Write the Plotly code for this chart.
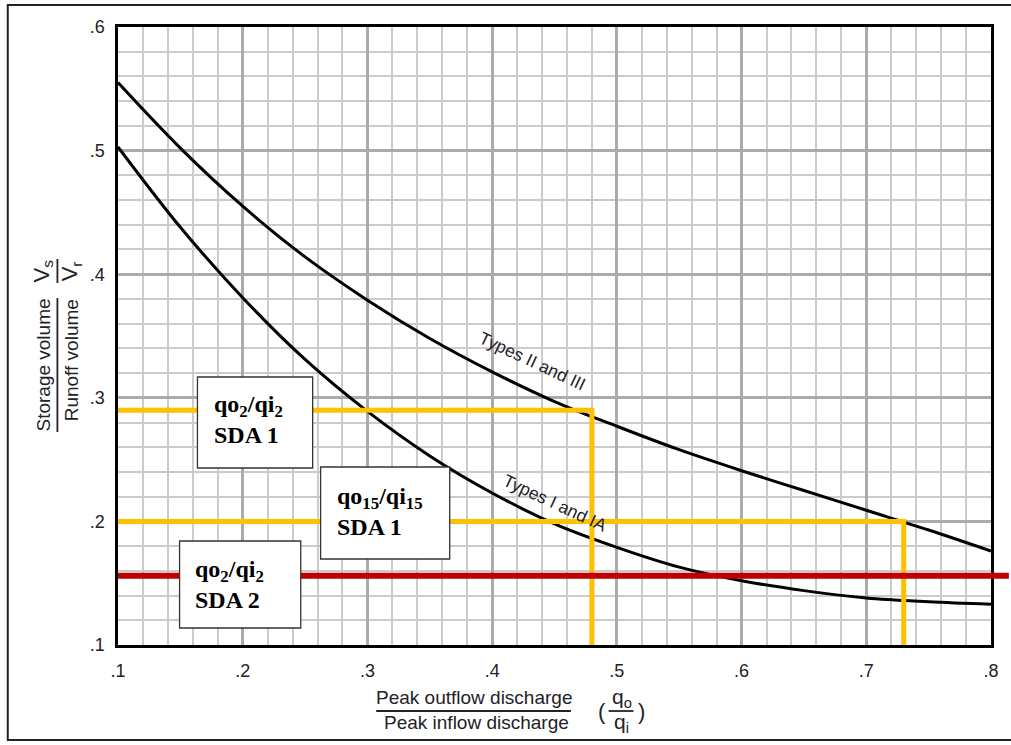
import plotly.graph_objects as go

# peak discharge ratio qo/qi (x) and storage ratio Vs/Vr (y)
q_ratio = [0.10, 0.15, 0.20, 0.25, 0.30, 0.35, 0.40, 0.45, 0.50, 0.55, 0.60, 0.65, 0.70, 0.75, 0.80]
vs_types_2_3 = [0.555, 0.502, 0.455, 0.414, 0.379, 0.348, 0.321, 0.297, 0.277, 0.258, 0.241, 0.225, 0.209, 0.193, 0.176]
vs_types_1_1a = [0.503, 0.438, 0.381, 0.331, 0.289, 0.253, 0.223, 0.198, 0.179, 0.163, 0.152, 0.144, 0.138, 0.135, 0.133]

# design reading lines
sda1_q2_ratio, sda1_q2_vol = 0.48, 0.29
sda1_q15_ratio, sda1_q15_vol = 0.73, 0.20
sda2_q2_vol = 0.156

x_ticks = [0.1, 0.2, 0.3, 0.4, 0.5, 0.6, 0.7, 0.8]
x_tick_labels = ['.1', '.2', '.3', '.4', '.5', '.6', '.7', '.8']
y_ticks = [0.1, 0.2, 0.3, 0.4, 0.5, 0.6]
y_tick_labels = ['.1', '.2', '.3', '.4', '.5', '.6']

W, H = 1011, 745
L, R, T, B = 118, 997, 27, 645


def px(x):
    return (x - L) / (R - L)


def py(y):
    return (B - y) / (B - T)


sans = 'Liberation Sans, Arial, sans-serif'
serif = 'Liberation Serif, Times New Roman, serif'
ink = '#222228'
yellow = '#FFC000'
red = '#C00000'

data = [
    go.Scatter(x=q_ratio, y=vs_types_2_3, mode='lines', line=dict(color='black', width=3, shape='spline'),
               hoverinfo='skip'),
    go.Scatter(x=q_ratio, y=vs_types_1_1a, mode='lines', line=dict(color='black', width=3, shape='spline'),
               hoverinfo='skip'),
    go.Scatter(x=[x_ticks[0], sda1_q2_ratio, sda1_q2_ratio], y=[sda1_q2_vol, sda1_q2_vol, y_ticks[0]],
               mode='lines', line=dict(color=yellow, width=5), hoverinfo='skip'),
    go.Scatter(x=[x_ticks[0], sda1_q15_ratio, sda1_q15_ratio], y=[sda1_q15_vol, sda1_q15_vol, y_ticks[0]],
               mode='lines', line=dict(color=yellow, width=5), hoverinfo='skip'),
]

fig = go.Figure(data=data)

shapes = [
    # outer frame of the picture (right side runs off the page)
    dict(type='rect', xref='paper', yref='paper', x0=px(7), x1=px(1030), y0=py(740), y1=py(5),
         line=dict(color='#222', width=2)),
    # SDA 2 line runs past the right axis
    dict(type='line', xref='paper', yref='y', x0=0, x1=px(1015), y0=sda2_q2_vol, y1=sda2_q2_vol,
         line=dict(color=red, width=6), layer='above'),
]
# label boxes
for x0, x1, y0, y1 in [(198, 314, 377, 468), (322, 452, 467, 559), (180, 302, 541, 628)]:
    shapes.append(dict(type='rect', xref='paper', yref='paper', x0=px(x0), x1=px(x1), y0=py(y1), y1=py(y0),
                       fillcolor='white', line=dict(color='#333', width=1.3), layer='above'))
# fraction bars of the axis titles
shapes += [
    dict(type='line', xref='paper', yref='paper', x0=px(57), x1=px(57), y0=py(432), y1=py(298),
         line=dict(color=ink, width=1.8)),
    dict(type='line', xref='paper', yref='paper', x0=px(57), x1=px(57), y0=py(283), y1=py(259),
         line=dict(color=ink, width=1.8)),
    dict(type='line', xref='paper', yref='paper', x0=px(378), x1=px(574), y0=py(711), y1=py(711),
         line=dict(color=ink, width=1.8)),
    dict(type='line', xref='paper', yref='paper', x0=px(612), x1=px(637), y0=py(711), y1=py(711),
         line=dict(color=ink, width=1.8)),
]

annotations = []


def note(text, x, y, size=19, font=sans, angle=0, xanchor='center', color=ink, align='center'):
    annotations.append(dict(text=text, xref='paper', yref='paper', x=px(x), y=py(y), showarrow=False,
                            xanchor=xanchor, yanchor='middle', textangle=angle, align=align,
                            font=dict(family=font, size=size, color=color)))


# box labels
box_font = dict(size=24, font=serif, xanchor='left', color='black', align='left')
note('<b>qo<sub>2</sub>/qi<sub>2</sub><br>SDA 1</b>', 213, 419, **box_font)
note('<b>qo<sub>15</sub>/qi<sub>15</sub><br>SDA 1</b>', 336, 511, **box_font)
note('<b>qo<sub>2</sub>/qi<sub>2</sub><br>SDA 2</b>', 194, 584, **box_font)

# curve labels
note('Types II and III', 535, 361, size=17.5, angle=25)
note('Types I and IA', 558, 503, size=17.5, angle=25)

# y title
note('Storage volume', 42, 365, angle=-90)
note('Runoff volume', 71, 360, angle=-90)
note('V<sub>s</sub>', 42, 271, size=22, angle=-90)
note('V<sub>r</sub>', 71, 271, size=22, angle=-90)

# x title
note('Peak outflow discharge', 476, 697)
note('Peak inflow discharge', 574, 722, xanchor='right')
note('(', 605, 711, size=22)
note(')', 645, 711, size=22)
note('q<sub>o</sub>', 625, 698, size=21)
note('q<sub>i</sub>', 625, 723, size=21)

axis_common = dict(
    showgrid=True, gridcolor='#ababab', gridwidth=3,
    showline=True, mirror=True, linecolor='black', linewidth=2.5,
    zeroline=False, ticks='', tickmode='array',
    tickfont=dict(family=sans, size=18, color=ink),
    fixedrange=True,
)

fig.update_layout(
    width=W, height=H,
    margin=dict(l=L, r=W - R, t=T, b=H - B),
    paper_bgcolor='white', plot_bgcolor='white',
    showlegend=False,
    shapes=shapes,
    annotations=annotations,
    xaxis=dict(range=[0.1, 0.8], tickvals=x_ticks, ticktext=x_tick_labels, ticklabelstandoff=8,
               minor=dict(tickmode='linear', tick0=0.1, dtick=0.02, showgrid=True,
                          gridcolor='#cbcbcb', gridwidth=2),
               **axis_common),
    yaxis=dict(range=[0.1, 0.6], tickvals=y_ticks, ticktext=y_tick_labels, ticklabelstandoff=7,
               minor=dict(tickmode='linear', tick0=0.1, dtick=0.02, showgrid=True,
                          gridcolor='#cbcbcb', gridwidth=2),
               **axis_common),
)

# drop the default page margin so the figure sits at the window's corner
fig.write_html('out.html', config={'displayModeBar': False},
               post_script="document.body.style.margin='0';")
